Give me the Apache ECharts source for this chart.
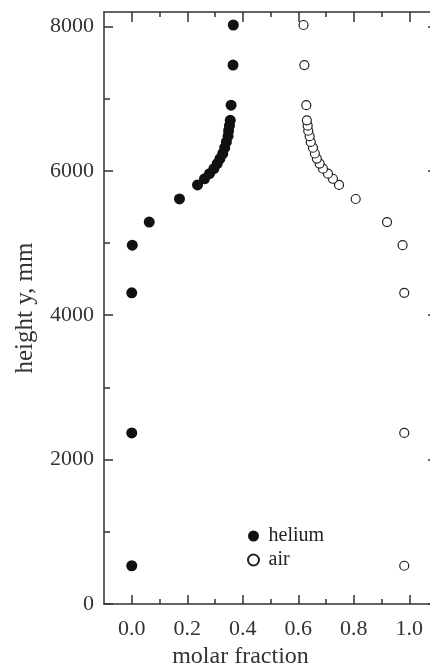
<!DOCTYPE html>
<html>
<head>
<meta charset="utf-8">
<title>molar fraction vs height</title>
<script src="https://cdn.jsdelivr.net/npm/echarts@6/dist/echarts.min.js"></script>
<style>
  html, body { margin: 0; padding: 0; background: #fff; }
  #chart { width: 430px; height: 664px; }
</style>
</head>
<body>
<div id="chart"></div>
<script>
// heights (mm) where both gases were sampled
var heights = [530, 2370, 4310, 4970, 5290, 5610, 5805, 5890, 5960, 6030, 6100, 6170,
  6240, 6320, 6400, 6480, 6555, 6625, 6700, 6910, 7465, 8020];
var helium = [0.0, 0.0, 0.0, 0.002, 0.063, 0.172, 0.237, 0.262, 0.280, 0.296, 0.308, 0.318,
  0.328, 0.335, 0.341, 0.347, 0.349, 0.352, 0.355, 0.358, 0.365, 0.366];
var air = [0.982, 0.982, 0.982, 0.976, 0.920, 0.807, 0.747, 0.725, 0.707, 0.689, 0.677, 0.667,
  0.660, 0.653, 0.645, 0.641, 0.636, 0.634, 0.631, 0.629, 0.622, 0.619];

var xMajor = [0, 0.2, 0.4, 0.6, 0.8, 1.0];
var xMinor = [0.1, 0.3, 0.5, 0.7, 0.9];
var yMajor = [0, 2000, 4000, 6000, 8000];
var yMinor = [1000, 3000, 5000, 7000];

var font = "'Liberation Serif', 'DejaVu Serif', serif";
var ink = '#333';

function pairs(xs) {
  return xs.map(function (v, i) { return [v, heights[i]]; });
}

// one axis per tick set, all sharing the same scale
function xAx(pos, ticks, len, withLine, withLabels) {
  var ax = {
    type: 'value', min: -0.1, max: 1.1, position: pos,
    splitLine: { show: false },
    axisLine: { show: withLine, onZero: false, lineStyle: { color: ink, width: 1.5 } },
    axisTick: { show: true, inside: true, length: len, customValues: ticks,
      lineStyle: { color: ink, width: 1.5 } },
    axisLabel: { show: withLabels, customValues: ticks, margin: 14,
      fontSize: 22, fontFamily: font, color: ink,
      formatter: function (v) { return v.toFixed(1); } }
  };
  if (withLabels) {
    ax.name = 'molar fraction';
    ax.nameLocation = 'middle';
    ax.nameGap = 40;
    ax.nameTextStyle = { fontSize: 24, fontFamily: font, color: ink, padding: [0, 60, 0, 0] };
  }
  return ax;
}
function yAx(pos, ticks, len, withLine, withLabels) {
  var ax = {
    type: 'value', min: 0, max: 8200, position: pos,
    splitLine: { show: false },
    axisLine: { show: withLine, onZero: false, lineStyle: { color: ink, width: 1.5 } },
    axisTick: { show: true, inside: true, length: len, customValues: ticks,
      lineStyle: { color: ink, width: 1.5 } },
    axisLabel: { show: withLabels, customValues: ticks, margin: 10,
      fontSize: 22, fontFamily: font, color: ink,
      formatter: function (v) { return String(v); } }
  };
  if (withLabels) {
    ax.name = 'height y, mm';
    ax.nameLocation = 'middle';
    ax.nameGap = 66;
    ax.nameTextStyle = { fontSize: 25, fontFamily: font, color: ink };
  }
  return ax;
}

var chart = echarts.init(document.getElementById('chart'));
chart.setOption({
  animation: false,
  grid: { left: 104, right: -7, top: 12, bottom: 60, outerBoundsMode: 'none' },
  xAxis: [
    xAx('bottom', xMajor, 9, true, true),
    xAx('bottom', xMinor, 5, false, false),
    xAx('top', xMajor, 10, true, false),
    xAx('top', xMinor, 5, false, false)
  ],
  yAxis: [
    yAx('left', yMajor, 9, true, true),
    yAx('left', yMinor, 6, false, false),
    yAx('right', yMajor, 9, true, false),
    yAx('right', yMinor, 6, false, false)
  ],
  legend: {
    orient: 'vertical', left: 242, top: 521,
    itemWidth: 20, itemHeight: 11, itemGap: 4,
    textStyle: { fontSize: 20, fontFamily: font, color: '#222' },
    data: ['helium', 'air']
  },
  series: [
    {
      name: 'helium', type: 'scatter', symbol: 'circle', symbolSize: 11,
      itemStyle: { color: '#111', opacity: 1 },
      data: pairs(helium)
    },
    {
      name: 'air', type: 'scatter', symbol: 'circle', symbolSize: 9,
      itemStyle: { color: '#fff', borderColor: '#222', borderWidth: 1.2, opacity: 1 },
      data: pairs(air)
    }
  ]
});
</script>
</body>
</html>
